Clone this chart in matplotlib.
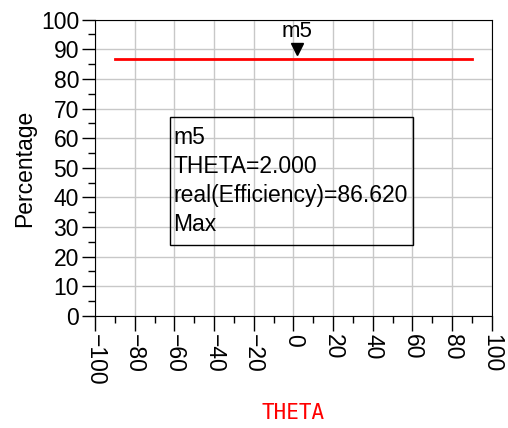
import matplotlib
matplotlib.use('Agg')
import matplotlib.pyplot as plt
from matplotlib.ticker import MultipleLocator

plt.rcParams['font.family'] = ['Liberation Sans', 'DejaVu Sans']

# data
theta = [-90, 2, 90]
efficiency = [86.62, 86.62, 86.62]
marker_name = 'm5'
marker_theta = 2.0
marker_value = 86.62
xticks = [-100, -80, -60, -40, -20, 0, 20, 40, 60, 80, 100]
yticks = [0, 10, 20, 30, 40, 50, 60, 70, 80, 90, 100]

fig = plt.figure(figsize=(5.08, 4.28), dpi=100)
ax = fig.add_axes([0.187, 0.262, 0.781, 0.692])

ax.plot(theta, efficiency, color='red', linewidth=2)
ax.plot([marker_theta], [marker_value + 3.5], marker='v', color='black',
        markersize=9, linestyle='none')
ax.text(marker_theta, marker_value + 6.0, marker_name, ha='center', va='bottom',
        fontsize=16)

ax.set_xlim(-100, 100)
ax.set_ylim(0, 100)
ax.set_xticks(xticks)
ax.set_yticks(yticks)
ax.xaxis.set_minor_locator(MultipleLocator(10))
ax.yaxis.set_minor_locator(MultipleLocator(5))
ax.grid(True, which='major', color='#c8c8c8', linewidth=1)
ax.set_axisbelow(True)

ax.tick_params(axis='x', which='major', direction='out', length=11, width=1,
               labelsize=16.5, labelrotation=-90, pad=2)
ax.tick_params(axis='x', which='minor', direction='out', length=5, width=1)
ax.tick_params(axis='y', which='major', direction='out', length=9.5, width=1,
               labelsize=16.5, pad=2)
ax.tick_params(axis='y', which='minor', direction='out', length=5, width=1)
for lab in ax.get_xticklabels():
    lab.set_va('top')
    lab.set_ha('center')

fig.text(0.049, 0.607, 'Percentage', fontsize=16.5, rotation=90,
         ha='center', va='center')
fig.text(0.577, 0.012, 'THETA', color='red', fontsize=15,
         family='DejaVu Sans Mono', ha='center', va='bottom')

# marker readout box
ax.add_patch(plt.Rectangle((-62.2, 23.9), 122.4, 43.4, fill=False,
                           edgecolor='black', linewidth=1))
lines = ['m5', 'THETA=2.000', 'real(Efficiency)=86.620', 'Max']
for i, s in enumerate(lines):
    ax.text(-60.5, 57.9 - i * 9.8, s, fontsize=16.5, ha='left', va='baseline')

fig.savefig('out.png', dpi=100)
